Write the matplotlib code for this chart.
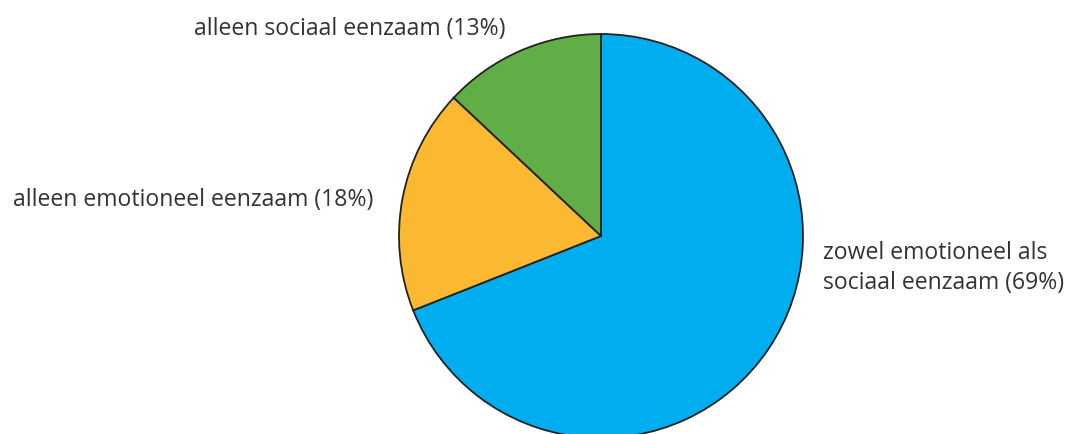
import matplotlib
matplotlib.use("Agg")
import matplotlib.pyplot as plt

labels = [
    "zowel emotioneel als\nsociaal eenzaam (69%)",
    "alleen emotioneel eenzaam (18%)",
    "alleen sociaal eenzaam (13%)",
]
shares = [69, 18, 13]
colors = ["#00AEEF", "#FBB932", "#62AE46"]

W, H = 1072, 434
fig = plt.figure(figsize=(W / 100, H / 100), dpi=100)

cx, cy, r = 601, 236, 202
ax = fig.add_axes([(cx - r) / W, (H - cy - r) / H, 2 * r / W, 2 * r / H])
ax.pie(shares, colors=colors, startangle=90, counterclock=False, radius=1,
       wedgeprops=dict(edgecolor="#222222", linewidth=1.3))
ax.set_xlim(-1, 1)
ax.set_ylim(-1, 1)
ax.set_aspect("equal")
ax.axis("off")
for p in ax.patches:
    p.set_clip_on(False)

font = dict(family="Open Sans", fontsize=16.6, color="#333333")
fig.text(823 / W, 1 - 268 / H, labels[0], ha="left", va="center",
         linespacing=1.28, **font)
fig.text(373 / W, 1 - 200 / H, labels[1], ha="right", va="center", **font)
fig.text(506 / W, 1 - 29 / H, labels[2], ha="right", va="center", **font)

fig.savefig("out.png", dpi=100)
